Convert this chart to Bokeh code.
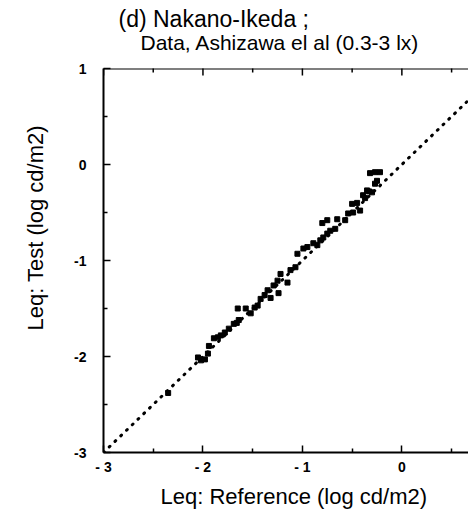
import math
from bokeh.plotting import figure
from bokeh.models import Range1d, FixedTicker, Span, Title
from bokeh.embed import file_html
from bokeh.resources import INLINE

# Data (log cd/m2)
reference = [-2.35, -2.05, -2.02, -1.98, -1.95, -1.94, -1.89, -1.85, -1.82, -1.78,
             -1.74, -1.69, -1.66, -1.64, -1.65, -1.57, -1.52, -1.48, -1.45, -1.42,
             -1.38, -1.35, -1.32, -1.29, -1.24, -1.25, -1.22, -1.15, -1.12, -1.07,
             -1.05, -0.99, -0.95, -0.89, -0.85, -0.82, -0.79, -0.75, -0.72, -0.67,
             -0.80, -0.75, -0.65, -0.57, -0.54, -0.49, -0.42, -0.50, -0.45, -0.39,
             -0.35, -0.30, -0.27, -0.25, -0.32, -0.27, -0.22, -0.37, -0.33]
test = [-2.38, -2.01, -2.04, -2.03, -1.97, -1.89, -1.81, -1.80, -1.78, -1.75,
        -1.71, -1.66, -1.65, -1.62, -1.50, -1.50, -1.55, -1.49, -1.47, -1.40,
        -1.36, -1.31, -1.39, -1.26, -1.34, -1.21, -1.14, -1.23, -1.10, -1.07,
        -0.93, -0.875, -0.86, -0.82, -0.84, -0.79, -0.76, -0.72, -0.69, -0.67,
        -0.61, -0.58, -0.57, -0.58, -0.51, -0.50, -0.48, -0.41, -0.40, -0.32,
        -0.27, -0.29, -0.20, -0.17, -0.09, -0.08, -0.08, -0.35, -0.28]

identity_x = [-3, 1]
identity_y = [-3, 1]

x_min, x_max = -3, 0.67
y_min, y_max = -3, 1

major_ticks = [-3, -2, -1, 0, 1]
minor_ticks = [-2.5, -1.5, -0.5, 0.5]
x_tick_labels = {-3: "- 3", -2: "- 2", -1: "- 1", 0: "0", 1: "1"}
y_tick_labels = {-3: "-3", -2: "-2", -1: "-1", 0: "0", 1: "1"}

title_line1 = "(d) Nakano-Ikeda ;"
title_line2 = "Data, Ashizawa el al (0.3-3 lx)"
x_title = "Leq: Reference (log cd/m2)"
y_title = "Leq: Test (log cd/m2)"

FONT = "Liberation Sans"

p = figure(width=468, height=515, output_backend="svg", toolbar_location=None,
           x_range=Range1d(x_min, x_max), y_range=Range1d(y_min, y_max),
           min_border_left=103, min_border_right=0, min_border_top=68,
           min_border_bottom=63)
p.title.visible = False
p.outline_line_color = None
p.xgrid.visible = False
p.ygrid.visible = False
p.background_fill_color = "white"
p.border_fill_color = "white"

def style_axis(ax, labels):
    ax.ticker = FixedTicker(ticks=major_ticks, minor_ticks=minor_ticks)
    ax.axis_line_width = 2
    ax.axis_line_color = "black"
    ax.major_tick_in = 7
    ax.major_tick_out = 0
    ax.minor_tick_in = 4
    ax.minor_tick_out = 0
    ax.major_tick_line_width = 1.5
    ax.minor_tick_line_width = 1.5
    ax.major_label_overrides = labels
    ax.major_label_text_font = FONT
    ax.major_label_text_font_style = "bold"
    ax.major_label_text_font_size = "14px"
    ax.major_label_text_color = "black"

style_axis(p.xaxis[0], x_tick_labels)
p.xaxis[0].major_label_standoff = 6
style_axis(p.yaxis[0], y_tick_labels)
p.yaxis[0].major_label_standoff = 17

# top frame line with inward ticks
p.add_layout(Span(location=y_max, dimension="width", line_color="black", line_width=2))
p.scatter(major_ticks, [y_max] * len(major_ticks), marker="dash", angle=math.pi / 2,
          size=14, line_color="black", line_width=1.5)
p.scatter(minor_ticks, [y_max] * len(minor_ticks), marker="dash", angle=math.pi / 2,
          size=8, line_color="black", line_width=1.5)

p.line(identity_x, identity_y, line_color="black", line_width=3,
       line_dash="1 7", line_cap="round")
p.scatter(reference, test, marker="square", size=5, color="black")

def make_title(text, size, align, offset, standoff, valign):
    return Title(text=text, align=align, offset=offset, standoff=standoff,
                 vertical_align=valign,
                 text_font=FONT, text_font_size=size, text_font_style="normal",
                 text_color="black")

p.add_layout(make_title(title_line2, "21px", "left", 37, 25, "top"), "above")
p.add_layout(make_title(title_line1, "23px", "left", 15, -26, "bottom"), "above")
p.add_layout(make_title(x_title, "22px", "left", 57, 9, "bottom"), "below")
p.add_layout(make_title(y_title, "22px", "left", 122, 44, "top"), "left")

open("out.html", "w").write(file_html(p, INLINE))
